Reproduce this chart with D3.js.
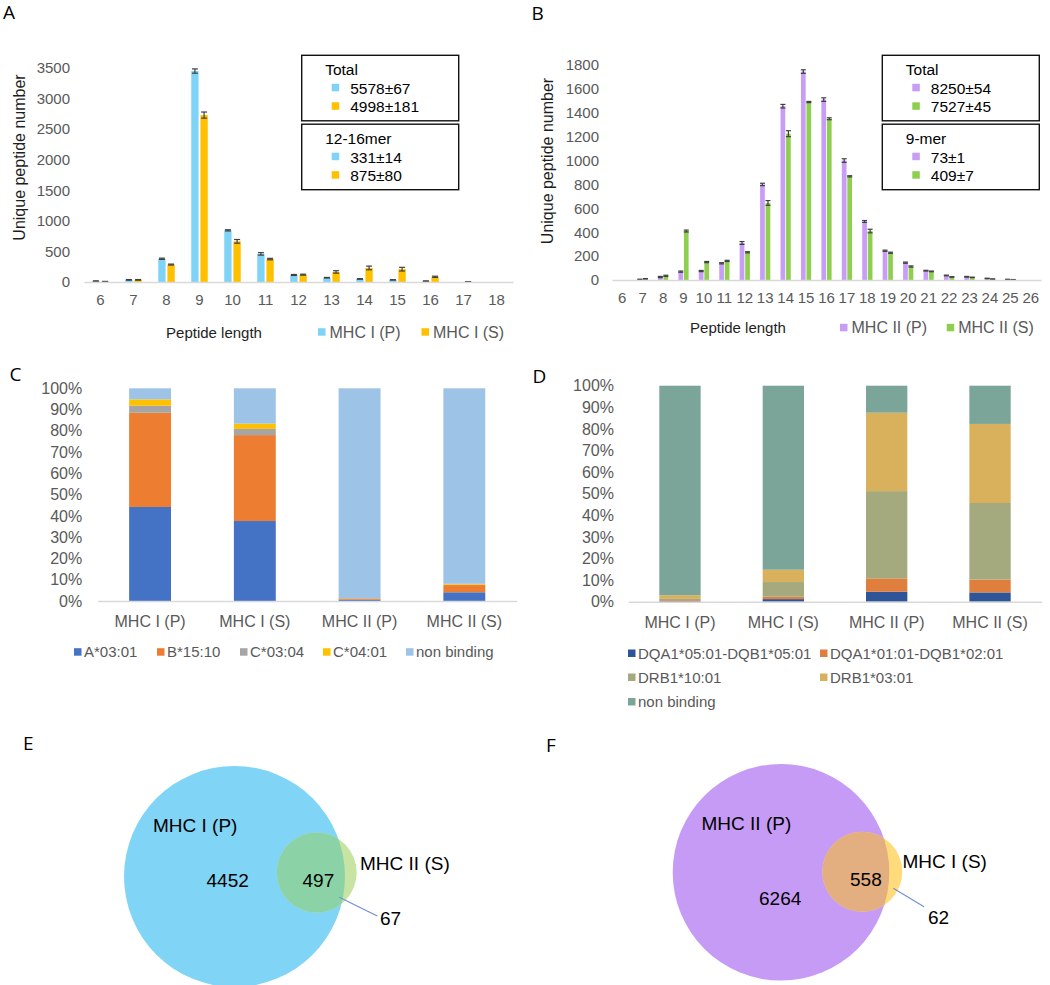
<!DOCTYPE html>
<html><head><meta charset="utf-8">
<script src="https://cdn.jsdelivr.net/npm/d3@7"></script>
<style>
body{margin:0;background:#fff}
svg{display:block}
text{font-family:"Liberation Sans",Arial,Helvetica,sans-serif}
</style>
</head><body>
<svg id="c" width="1050" height="985"></svg>
<script>
// ---------------- DATA ----------------
// Panel A : MHC I peptide length distribution
const lengthsA = [6,7,8,9,10,11,12,13,14,15,16,17,18];
const mhcI_P   = [15,35,380,3450,845,460,115,70,50,35,15,0,0];
const mhcI_P_sd= [3,5,10,35,10,20,8,5,5,3,2,0,0];
const mhcI_S   = [8,35,285,2730,665,375,120,165,230,210,85,5,0];
const mhcI_S_sd= [2,5,8,50,30,12,8,20,30,30,10,2,0];
const yTicksA  = [0,500,1000,1500,2000,2500,3000,3500];
const boxA = [["Total","5578±67","4998±181"],["12-16mer","331±14","875±80"]];

// Panel B : MHC II peptide length distribution
const lengthsB = [6,7,8,9,10,11,12,13,14,15,16,17,18,19,20,21,22,23,24,25,26];
const mhcII_P   = [0,5,25,70,75,140,310,800,1455,1745,1510,1000,490,245,145,78,38,27,13,5,0];
const mhcII_P_sd= [0,2,5,5,5,5,12,10,15,15,15,15,8,5,5,3,3,3,2,1,0];
const mhcII_S   = [0,10,35,410,150,160,232,645,1225,1490,1350,868,410,228,113,72,26,22,8,3,0];
const mhcII_S_sd= [0,2,5,8,5,5,5,20,25,5,8,5,15,5,5,3,2,2,1,1,0];
const yTicksB  = [0,200,400,600,800,1000,1200,1400,1600,1800];
const boxB = [["Total","8250±54","7527±45"],["9-mer","73±1","409±7"]];

// Panels C / D : binding prediction (percent)
const samples = ["MHC I (P)","MHC I (S)","MHC II (P)","MHC II (S)"];
const pctTicks = [0,10,20,30,40,50,60,70,80,90,100];
const allelesC = ["A*03:01","B*15:10","C*03:04","C*04:01","non binding"];
const cA0301 = [44.2,37.6,0.7,4.1];
const cB1510 = [44.3,40.4,0.5,3.4];
const cC0304 = [3.3,2.9,0.1,0.2];
const cC0401 = [3.0,2.5,0.1,0.4];
const cNonBinding = [5.2,16.6,98.6,91.9];

const allelesD = ["DQA1*05:01-DQB1*05:01","DQA1*01:01-DQB1*02:01","DRB1*10:01","DRB1*03:01","non binding"];
const dDQA0501 = [0.3,1.2,4.6,4.3];
const dDQA0101 = [0.4,1.1,6.2,5.9];
const dDRB1001 = [0.6,6.8,40.4,35.5];
const dDRB0301 = [1.7,5.7,36.3,36.6];
const dNonBinding = [97.0,85.2,12.5,17.7];

// Panels E / F : Venn overlaps [only first, both, only second]
const vennE_sets = ["MHC I (P)","MHC II (S)"];
const vennE_counts = [4452,497,67];
const vennF_sets = ["MHC II (P)","MHC I (S)"];
const vennF_counts = [6264,558,62];

// ---------------- DRAWING ----------------
const svg = d3.select("#c");
svg.append("rect").attr("width",1050).attr("height",985).attr("fill","#fff");
const GRAY = "#595959";
const AXIS = "#D9D9D9";

function panelLetter(t,x,y){
  svg.append("text").attr("x",x).attr("y",y).text(t)
    .style("font-family","'Open Sans',sans-serif").attr("font-size",19).attr("fill","#000");
}

function groupedBars(cfg){
  const g = svg.append("g");
  const x0 = d3.scaleBand().domain(cfg.cats).range(cfg.xr).paddingInner(0.5).paddingOuter(0.25);
  const x1 = d3.scaleBand().domain(d3.range(cfg.series.length)).range([0,x0.bandwidth()]).paddingInner(cfg.gap);
  const y = d3.scaleLinear().domain([0,cfg.ymax]).range(cfg.yr);

  // y axis
  const ya = g.append("g").attr("transform",`translate(${cfg.xr[0]},0)`)
    .call(d3.axisLeft(y).tickValues(cfg.yticks).tickFormat(d3.format("d")).tickSize(0).tickPadding(cfg.ypad));
  ya.select(".domain").remove();
  ya.attr("font-size",15).attr("font-family",null);
  ya.selectAll("text").attr("fill",GRAY);

  // bars
  cfg.series.forEach((s,si)=>{
    g.append("g").selectAll("rect").data(cfg.cats).join("rect")
      .attr("x",(c)=>x0(c)+x1(si))
      .attr("width",x1.bandwidth())
      .attr("y",(c,i)=>y(s.vals[i]))
      .attr("height",(c,i)=>y(0)-y(s.vals[i]))
      .attr("fill",s.color);
  });
  // error bars
  cfg.series.forEach((s,si)=>{
    const eg = g.append("g").attr("stroke","#404040").attr("stroke-width",1.2);
    cfg.cats.forEach((c,i)=>{
      if(s.vals[i]<=0) return;
      const cx = x0(c)+x1(si)+x1.bandwidth()/2;
      const lo = y(Math.max(0,s.vals[i]-s.sd[i])), hi = y(s.vals[i]+s.sd[i]);
      const w = cfg.cap;
      eg.append("line").attr("x1",cx).attr("x2",cx).attr("y1",lo).attr("y2",hi);
      eg.append("line").attr("x1",cx-w).attr("x2",cx+w).attr("y1",hi).attr("y2",hi);
      eg.append("line").attr("x1",cx-w).attr("x2",cx+w).attr("y1",lo).attr("y2",lo);
    });
  });

  // x axis
  const xa = g.append("g").attr("transform",`translate(0,${cfg.yr[0]})`)
    .call(d3.axisBottom(x0).tickSize(0).tickSizeOuter(0).tickPadding(cfg.xpad));
  xa.attr("font-size",15).attr("font-family",null);
  xa.select(".domain").attr("stroke",AXIS).attr("stroke-width",1.5);
  xa.selectAll("text").attr("fill",GRAY);

  // y title
  g.append("text").attr("transform",`translate(${cfg.ytitle[0]},${cfg.ytitle[1]}) rotate(-90)`)
    .attr("text-anchor","middle").attr("font-size",16).attr("fill","#1e1e1e").text("Unique peptide number");
  // x title
  g.append("text").attr("x",cfg.xtitle[0]).attr("y",cfg.xtitle[1]).attr("text-anchor","middle")
    .attr("font-size",15).attr("fill","#1e1e1e").text("Peptide length");
  // bottom legend
  cfg.series.forEach((s,si)=>{
    const lx = cfg.legX[si];
    g.append("rect").attr("x",lx).attr("y",cfg.legY-3.5).attr("width",7.5).attr("height",7.5).attr("fill",s.color);
    g.append("text").attr("x",lx+11.5).attr("y",cfg.legY+5.8).attr("font-size",16).attr("fill",GRAY).text(s.name);
  });
  // boxed legend
  cfg.box.forEach((b,bi)=>{
    const by = cfg.boxY[bi];
    g.append("rect").attr("x",cfg.boxX).attr("y",by).attr("width",157).attr("height",65.5)
      .attr("fill","none").attr("stroke","#111").attr("stroke-width",1.4);
    g.append("text").attr("x",cfg.boxX+23.5).attr("y",by+20).attr("font-size",15.5).attr("fill","#000").text(b[0]);
    [1,2].forEach((k,ki)=>{
      const ty = by+38.5+ki*18.5;
      g.append("rect").attr("x",cfg.boxX+30).attr("y",ty-10).attr("width",7.5).attr("height",7.5).attr("fill",cfg.series[ki].color);
      g.append("text").attr("x",cfg.boxX+48.5).attr("y",ty).attr("font-size",15.5).attr("fill","#000").text(b[k]);
    });
  });
}

groupedBars({
  cats: lengthsA, xr:[84,513], yr:[282,68], ymax:3500, yticks:yTicksA, ypad:14, xpad:12.5, gap:0.2, cap:3,
  series:[{name:"MHC I (P)",vals:mhcI_P,sd:mhcI_P_sd,color:"#7FD3F7"},
          {name:"MHC I (S)",vals:mhcI_S,sd:mhcI_S_sd,color:"#FFC000"}],
  ytitle:[25,157.5], xtitle:[214,337.5], legX:[318,421.5], legY:331.7,
  box:boxA, boxX:301.7, boxY:[55.3,124.2]
});
groupedBars({
  cats: lengthsB, xr:[612,1041], yr:[280,65], ymax:1800, yticks:yTicksB, ypad:13, xpad:12, gap:0.15, cap:2.5,
  series:[{name:"MHC II (P)",vals:mhcII_P,sd:mhcII_P_sd,color:"#C89DF6"},
          {name:"MHC II (S)",vals:mhcII_S,sd:mhcII_S_sd,color:"#8FCF4F"}],
  ytitle:[553,161], xtitle:[738,332.7], legX:[840,946.7], legY:327.3,
  box:boxB, boxX:882.3, boxY:[55.3,124.2]
});

function stackedPanel(cfg){
  const g = svg.append("g");
  const rows = samples.map((s,i)=>{
    const r = {sample:s};
    cfg.keys.forEach((k,ki)=>{ r[k]=cfg.arrays[ki][i]; });
    return r;
  });
  const stack = d3.stack().keys(cfg.keys)(rows);
  const x = d3.scaleBand().domain(samples).range(cfg.xr).paddingInner(0.6).paddingOuter(0.3);
  const y = d3.scaleLinear().domain([0,100]).range(cfg.yr);
  const color = d3.scaleOrdinal().domain(cfg.keys).range(cfg.colors);

  const ya = g.append("g").attr("transform",`translate(${cfg.xr[0]},0)`)
    .call(d3.axisLeft(y).tickValues(pctTicks).tickFormat(d=>d+"%").tickSize(0).tickPadding(cfg.ypad));
  ya.select(".domain").remove();
  ya.attr("font-size",16).attr("font-family",null);
  ya.selectAll("text").attr("fill",GRAY);

  g.append("g").selectAll("g").data(stack).join("g").attr("fill",d=>color(d.key))
    .selectAll("rect").data(d=>d).join("rect")
    .attr("x",d=>x(d.data.sample)).attr("width",x.bandwidth())
    .attr("y",d=>y(d[1])).attr("height",d=>y(d[0])-y(d[1]));

  const xa = g.append("g").attr("transform",`translate(0,${cfg.yr[0]})`)
    .call(d3.axisBottom(x).tickSize(0).tickSizeOuter(0).tickPadding(14.5));
  xa.attr("font-size",16).attr("font-family",null);
  xa.select(".domain").attr("stroke",AXIS).attr("stroke-width",1.5);
  xa.selectAll("text").attr("fill",GRAY);

  cfg.keys.forEach((k,ki)=>{
    const p = cfg.legPos[ki];
    g.append("rect").attr("x",p[0]).attr("y",p[1]-3.5).attr("width",7.5).attr("height",7.5).attr("fill",color(k));
    g.append("text").attr("x",p[0]+10).attr("y",p[1]+5.5).attr("font-size",15).attr("fill",GRAY).text(k);
  });
}

stackedPanel({
  keys: allelesC, arrays:[cA0301,cB1510,cC0304,cC0401,cNonBinding],
  colors:["#4472C4","#ED7D31","#A5A5A5","#FFC000","#9DC3E6"],
  xr:[97.7,516.7], yr:[601,388.3], ypad:15.5,
  legPos: allelesC.map((k,i)=>[74+i*83,651.7])
});
stackedPanel({
  keys: allelesD, arrays:[dDQA0501,dDQA0101,dDRB1001,dDRB0301,dNonBinding],
  colors:["#2E5597","#E07E3E","#A4AA7E","#D9B15D","#7AA598"],
  xr:[628.3,1041.7], yr:[601.7,385.7], ypad:14.3,
  legPos: [[628,653],[820,653],[628,677],[820,677],[628,701.5]]
});

function venn(cfg){
  const g = svg.append("g");
  const id = "clip"+cfg.id;
  g.append("clipPath").attr("id",id).append("circle").attr("cx",cfg.big[0]).attr("cy",cfg.big[1]).attr("r",cfg.big[2]);
  g.append("circle").attr("cx",cfg.big[0]).attr("cy",cfg.big[1]).attr("r",cfg.big[2]).attr("fill",cfg.colors[0]);
  g.append("circle").attr("cx",cfg.small[0]).attr("cy",cfg.small[1]).attr("r",cfg.small[2]).attr("fill",cfg.colors[1]);
  g.append("circle").attr("cx",cfg.small[0]).attr("cy",cfg.small[1]).attr("r",cfg.small[2]).attr("fill",cfg.colors[2])
    .attr("clip-path",`url(#${id})`);
  g.append("line").attr("x1",cfg.lead[0]).attr("y1",cfg.lead[1]).attr("x2",cfg.lead[2]).attr("y2",cfg.lead[3])
    .attr("stroke","#6F8FD2").attr("stroke-width",1.1);
  const fmt = d3.format("d");
  const labels = [
    [cfg.sets[0],cfg.pos[0]],[cfg.sets[1],cfg.pos[1]],
    [fmt(cfg.counts[0]),cfg.pos[2]],[fmt(cfg.counts[1]),cfg.pos[3]],[fmt(cfg.counts[2]),cfg.pos[4]]
  ];
  labels.forEach(l=>{
    g.append("text").attr("x",l[1][0]).attr("y",l[1][1]).attr("font-size",19).attr("fill","#000").text(l[0]);
  });
}
venn({id:"E", sets:vennE_sets, counts:vennE_counts,
  big:[234.5,876.5,110.5], small:[316.7,872.5,40],
  colors:["#80D4F5","#C7E4A3","#8BD3A6"],
  lead:[339.3,897.3,377.3,916],
  pos:[[153,832],[360,869.5],[206.5,887],[302.5,887],[380,925]]
});
venn({id:"F", sets:vennF_sets, counts:vennF_counts,
  big:[781,872.3,108.3], small:[862.3,871.7,40],
  colors:["#C69BF5","#FFDB7B","#E3AE80"],
  lead:[893.3,888.3,924,906.7],
  pos:[[701.5,830],[902.5,867.5],[759,905],[850,886],[928,923.5]]
});

panelLetter("A",3,19);
panelLetter("B",531.5,19.5);
panelLetter("C",9.5,380.7);
panelLetter("D",532.5,382.7);
panelLetter("E",23,749.5);
panelLetter("F",546,752);
</script>
</body></html>
